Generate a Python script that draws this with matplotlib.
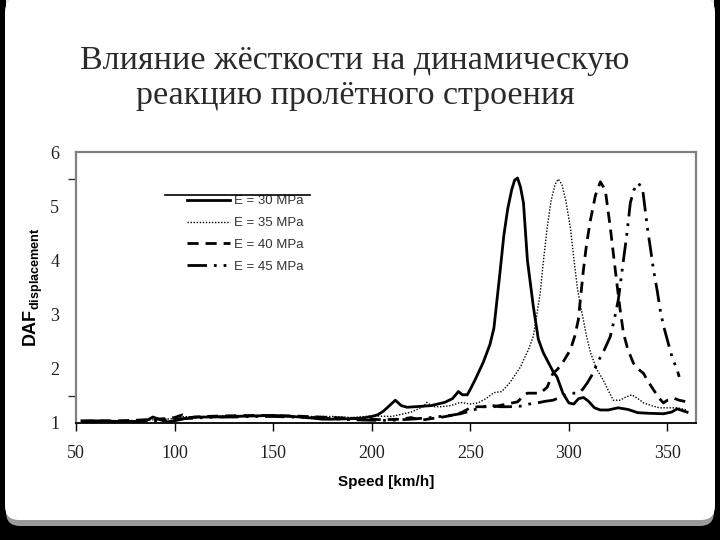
import matplotlib
matplotlib.use('Agg')
import matplotlib.pyplot as plt
from matplotlib.patches import FancyBboxPatch
from matplotlib.lines import Line2D
import numpy as np

plt.rcParams['mathtext.fontset'] = 'custom'
plt.rcParams['mathtext.bf'] = 'Liberation Sans:bold'
plt.rcParams['mathtext.rm'] = 'Liberation Sans'

title = 'Влияние жёсткости на динамическую\nреакцию пролётного строения'
labels = ['E = 30 MPa', 'E = 35 MPa', 'E = 40 MPa', 'E = 45 MPa']

# E = 30 MPa
x30 = [53, 60, 70, 80, 86, 89, 92, 96, 100, 105, 110, 120, 130, 140, 150, 160, 170, 175, 180, 190, 195,
       200, 203, 206, 209, 212, 215, 218, 222, 230, 237, 241, 244, 246, 248.5, 250, 252.5, 256.6, 260,
       262, 265, 267, 269, 271, 272.5, 274, 275.5, 277, 279, 282, 284.5, 287, 289, 292, 294, 297, 300,
       302.5, 305, 307.5, 310, 313, 316, 320, 325, 330, 335, 340, 348, 352, 355, 360]
y30 = [1.04, 1.04, 1.03, 1.03, 1.05, 1.11, 1.07, 1.02, 1.04, 1.08, 1.11, 1.11, 1.12, 1.13, 1.14, 1.12, 1.09,
       1.07, 1.07, 1.08, 1.09, 1.12, 1.15, 1.22, 1.32, 1.42, 1.32, 1.29, 1.30, 1.32, 1.38, 1.45, 1.58, 1.52,
       1.52, 1.62, 1.80, 2.12, 2.45, 2.75, 3.75, 4.45, 4.95, 5.3, 5.48, 5.52, 5.35, 5.06, 4.0, 3.15, 2.55,
       2.3, 2.16, 1.95, 1.85, 1.55, 1.37, 1.35, 1.45, 1.47, 1.40, 1.28, 1.24, 1.24, 1.28, 1.25, 1.19, 1.18,
       1.17, 1.20, 1.26, 1.20]

# E = 35 MPa
x35 = [53, 60, 70, 80, 90, 100, 105, 110, 120, 130, 140, 150, 160, 170, 180, 190, 200, 210, 220, 226, 228,
       231, 235, 240, 245, 250, 254, 258, 262, 266, 270, 273, 275.4, 277, 279.5, 282, 284, 285.5, 287, 289,
       291, 293, 294.7, 296.5, 298.5, 300.8, 302.5, 304.3, 306, 307.4, 309, 311, 314, 317.5, 320, 322.6,
       326, 329, 332, 335, 338, 342, 346, 350, 355, 360]
y35 = [1.03, 1.03, 1.03, 1.04, 1.06, 1.08, 1.12, 1.10, 1.12, 1.14, 1.13, 1.12, 1.11, 1.12, 1.12, 1.10, 1.13,
       1.12, 1.2, 1.3, 1.38, 1.3, 1.3, 1.32, 1.38, 1.35, 1.37, 1.45, 1.56, 1.58, 1.74, 1.9, 2.03, 2.16, 2.35,
       2.6, 3.05, 3.4, 3.95, 4.6, 5.1, 5.4, 5.5, 5.4, 5.1, 4.6, 4.05, 3.5, 3.15, 2.9, 2.6, 2.3, 2.0, 1.79,
       1.6, 1.42, 1.42, 1.48, 1.52, 1.45, 1.37, 1.32, 1.28, 1.28, 1.28, 1.24]

# E = 40 MPa
x40 = [53, 60, 70, 80, 90, 95, 100, 104, 108, 115, 125, 140, 160, 180, 195, 205, 215, 220, 225, 230, 236,
       242, 246, 250, 254, 258, 262, 266, 270, 274, 277, 279, 282, 285.5, 289, 292, 294, 297, 300.8, 303,
       304.8, 307.4, 309, 311, 313.5, 316, 318.5, 321, 323, 324.6, 326, 327.7, 330, 332.7, 335, 337.8, 340,
       343, 346, 348, 350, 353, 356, 360]
y40 = [1.03, 1.04, 1.04, 1.05, 1.07, 1.08, 1.1, 1.15, 1.1, 1.12, 1.13, 1.14, 1.13, 1.1, 1.08, 1.06, 1.07,
       1.1, 1.05, 1.08, 1.11, 1.15, 1.2, 1.28, 1.3, 1.3, 1.3, 1.33, 1.36, 1.39, 1.5, 1.55, 1.55, 1.55, 1.66,
       1.92, 1.98, 2.12, 2.35, 2.6, 2.9, 3.82, 4.3, 4.75, 5.2, 5.45, 5.3, 4.62, 4.0, 3.51, 3.1, 2.66, 2.35,
       2.11, 2.0, 1.92, 1.78, 1.61, 1.45, 1.37, 1.42, 1.46, 1.42, 1.39]

# E = 45 MPa
x45 = [53, 60, 70, 80, 90, 100, 110, 120, 130, 140, 150, 160, 170, 180, 190, 200, 210, 220, 230, 240, 245,
       250, 255, 260, 265, 270, 275.4, 280, 284, 288, 292, 296, 300.8, 304.8, 307, 309.4, 312, 314.5, 318,
       321, 323, 325.1, 327.7, 329.5, 331.2, 333, 335.3, 337.5, 339.8, 341.5, 343, 344.8, 346.4, 348, 350,
       352.5, 355, 356]
y45 = [1.02, 1.02, 1.03, 1.03, 1.04, 1.07, 1.09, 1.11, 1.11, 1.12, 1.12, 1.11, 1.1, 1.08, 1.06, 1.05, 1.05,
       1.07, 1.1, 1.14, 1.17, 1.22, 1.28, 1.33, 1.3, 1.3, 1.31, 1.35, 1.37, 1.40, 1.42, 1.48, 1.55, 1.55,
       1.62, 1.74, 1.9, 2.11, 2.35, 2.59, 2.9, 3.27, 4.0, 4.5, 5.06, 5.3, 5.43, 5.3, 4.62, 4.2, 3.82, 3.45,
       3.08, 2.8, 2.53, 2.2, 1.98, 1.85]

xticks = [50, 100, 150, 200, 250, 300, 350]
yticks = [1, 2, 3, 4, 5, 6]

fig = plt.figure(figsize=(7.2, 5.4), dpi=100, facecolor='black')

# slide background
bg = fig.add_axes([0, 0, 1, 1], zorder=-10)
bg.set_xlim(0, 720)
bg.set_ylim(540, 0)
bg.axis('off')
bg.add_patch(FancyBboxPatch((12, 8), 696, 512, boxstyle='round,pad=6,rounding_size=14',
                            facecolor='#9a9a9a', edgecolor='none'))
bg.add_patch(FancyBboxPatch((11, 4), 698, 510, boxstyle='round,pad=6,rounding_size=14',
                            facecolor='white', edgecolor='none'))
grad = np.linspace(0.9, 1.0, 20).reshape(-1, 1)
bg.imshow(grad, cmap='gray', vmin=0, vmax=1, extent=(6, 714, 16, 0), aspect='auto')

fig.text(0.493, 0.795, title, ha='center', va='bottom', fontsize=24.5, family='Liberation Serif',
         color='#2a2a2a', linespacing=1.2)

ax = fig.add_axes([0.1056, 0.2167, 0.861, 0.5018])
ax.plot(x30, y30, color='black', lw=2.0, ls='-', label=labels[0])
ax.plot(x35, y35, color='black', lw=1.0, ls=(0, (1, 1.2)), label=labels[1])
ax.plot(x40, y40, color='black', lw=2.0, ls=(0, (4, 2.5)), label=labels[2])
ax.plot(x45, y45, color='black', lw=2.0, ls=(0, (7, 2.5, 1, 2.5, 1, 2.5)), label=labels[3])

ax.set_xlim(50, 364.5)
ax.set_ylim(1, 6)
for s in ['left', 'top', 'right']:
    ax.spines[s].set_color('#808080')
    ax.spines[s].set_linewidth(1.6)
ax.spines['bottom'].set_color('black')
ax.spines['bottom'].set_linewidth(1.3)

ax.set_xticks(xticks)
ax.set_yticks(yticks)
ax.set_yticks([1, 1.5, 2, 4, 5.5, 6], minor=True)
ax.tick_params(axis='x', direction='out', length=6, width=1, pad=10, labelsize=13,
               labelfontfamily='Liberation Serif', labelcolor='#222222')
ax.tick_params(axis='y', which='major', length=0, pad=12, labelsize=13,
               labelfontfamily='Liberation Serif', labelcolor='#222222')
ax.tick_params(axis='y', which='minor', direction='out', length=6, width=1, color='#333333')

ax.set_xlabel('Speed [km/h]', fontsize=11, fontweight='bold', family='Liberation Sans', labelpad=9)
ax.set_ylabel(r'$\mathbf{DAF}_{\mathbf{displacement}}$', fontsize=13)
ax.yaxis.set_label_coords(-0.05, 0.5)

leg = ax.legend(loc='upper left', bbox_to_anchor=(0.17, 0.86), frameon=False, handlelength=3.3,
                handletextpad=0.25, labelspacing=0.72, borderaxespad=0,
                prop={'family': 'Liberation Sans', 'size': 9.5})
for t in leg.get_texts():
    t.set_color('#333333')
fig.add_artist(Line2D([165 / 720, 310 / 720], [1 - 195 / 540, 1 - 195 / 540], color='black', lw=1.2))

fig.savefig('out.png', dpi=100, facecolor='black')
